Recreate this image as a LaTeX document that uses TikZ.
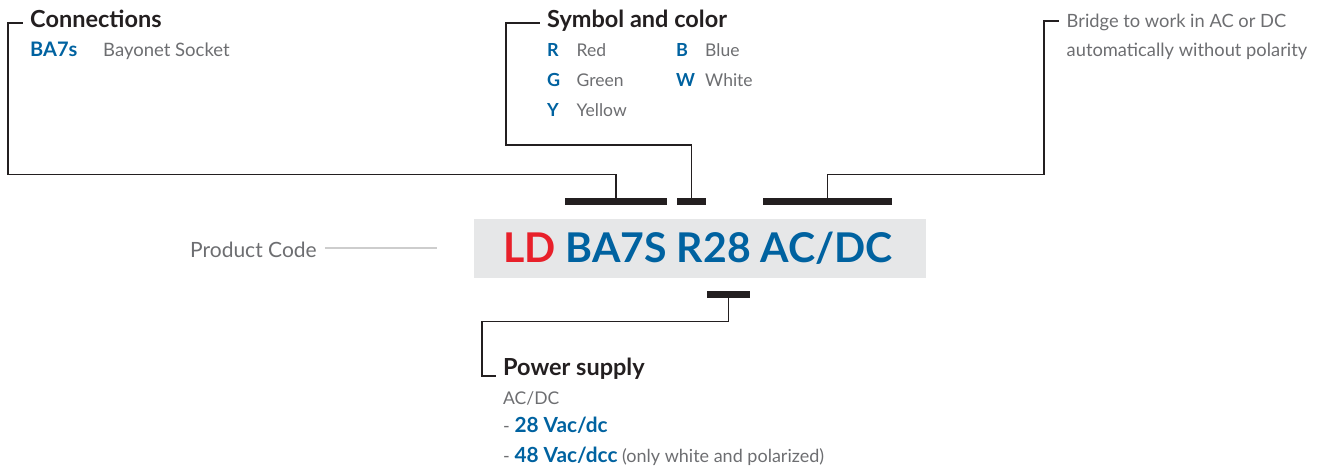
\documentclass[tikz,border=0pt]{standalone}
\usepackage{fontspec}
\setmainfont{Lato}
\usetikzlibrary{positioning}
\definecolor{CodeBlue}{HTML}{0062A0}
\definecolor{CodeRed}{HTML}{E8202A}
\definecolor{InkGray}{HTML}{6D6E71}
\definecolor{InkDark}{HTML}{231F20}
\definecolor{BoxGray}{HTML}{E6E7E8}
\definecolor{RuleGray}{HTML}{CDCDCD}
\tikzset{
  lead/.style={draw=InkDark,line width=1.2pt},
  codebar/.style={fill=InkDark,inner sep=0,minimum height=7pt},
  txt/.style={anchor=base west,inner sep=0,text=InkGray,font=\fontsize{17.5}{20}\selectfont},
  head/.style={anchor=base west,inner sep=0,text=InkDark,font=\fontsize{23.5}{26}\selectfont\bfseries},
  key/.style={anchor=base west,inner sep=0,text=CodeBlue,font=\fontsize{18}{22}\selectfont\bfseries},
}

\begin{document}
\begin{tikzpicture}[x=1pt,y=-1pt]
\useasboundingbox (0,0) rectangle (1318,472);
% product code
\node[fill=BoxGray,minimum width=452pt,minimum height=59pt,inner sep=0] (codebox) at (700,248.5) {};
\node[anchor=base,inner sep=0,font=\fontsize{41}{44}\selectfont\bfseries] (code) at (698,262.5)
  {\textcolor{CodeRed}{LD} \textcolor{CodeBlue}{BA7S R28 AC/DC}};
\node[txt,font=\fontsize{21}{24}\selectfont] (pclabel) at (190,257) {Product Code};
\coordinate (pcend) at (437,248);
\draw[RuleGray,line width=2.5pt] (pclabel.east |- pcend) ++(8,0) -- (pcend);
% bars
\node[codebar,minimum width=102pt] (barconn) at (616,201.5) {};
\node[codebar,minimum width=29pt] (barsym) at (691.5,201.5) {};
\node[codebar,minimum width=129pt] (barbridge) at (827.5,201.5) {};
\node[codebar,minimum width=43pt] (barpower) at (728.5,294.5) {};
% connections
\node[head] (conntitle) at (30,27.5) {Connections};
\node[key,font=\fontsize{20}{22}\selectfont\bfseries] (connkey) at (30,56.7) {BA7s};
\node[txt,font=\fontsize{18.5}{20}\selectfont] (conntxt) at (103,56.7) {Bayonet Socket};
\coordinate (connstub) at (22.5,23);
\draw[lead] (barconn.north) |- (8,174.5) |- (connstub);
% symbol and color
\node[head] (symtitle) at (547,27.3) {Symbol and color};
\node[key] (keyr) at (547,56.7) {R};
\node[txt] (txtr) at (576.5,56.7) {Red};
\node[key] (keyg) at (547,86.5) {G};
\node[txt] (txtg) at (576.5,86.5) {Green};
\node[key] (keyy) at (547,116) {Y};
\node[txt] (txty) at (576.5,116) {Yellow};
\node[key] (keyb) at (676,56.7) {B};
\node[txt] (txtb) at (705,56.7) {Blue};
\node[key] (keyw) at (676,86.5) {W};
\node[txt] (txtw) at (705,86.5) {White};
\coordinate (symstub) at (540,23);
\draw[lead] (barsym.north) |- (506,145) |- (symstub);
% bridge
\node[txt,font=\fontsize{18.3}{20}\selectfont] (bridge1) at (1066.5,27.3) {Bridge to work in AC or DC};
\node[txt,font=\fontsize{18.3}{20}\selectfont] (bridge2) at (1066.5,56.3) {automatically without polarity};
\coordinate (bridgestub) at (1059,21);
\draw[lead] (barbridge.north) |- (1044,174.5) |- (bridgestub);
% power supply
\node[head] (powtitle) at (503,375) {Power supply};
\node[txt] (powac) at (503,404) {AC/DC};
\node[txt,font=\fontsize{18}{20}\selectfont] (pow28) at (503,432.5) {- \textcolor{CodeBlue}{\fontsize{20.8}{22}\selectfont\bfseries 28 Vac/dc}};
\node[txt,font=\fontsize{18}{20}\selectfont] (pow48) at (503,462.5) {- \textcolor{CodeBlue}{\fontsize{20.8}{22}\selectfont\bfseries 48 Vac/dcc} (only white and polarized)};
\coordinate (powstub) at (496,376);
\draw[lead] (barpower.south) |- (482,321.5) |- (powstub);
\end{tikzpicture}
\end{document}
